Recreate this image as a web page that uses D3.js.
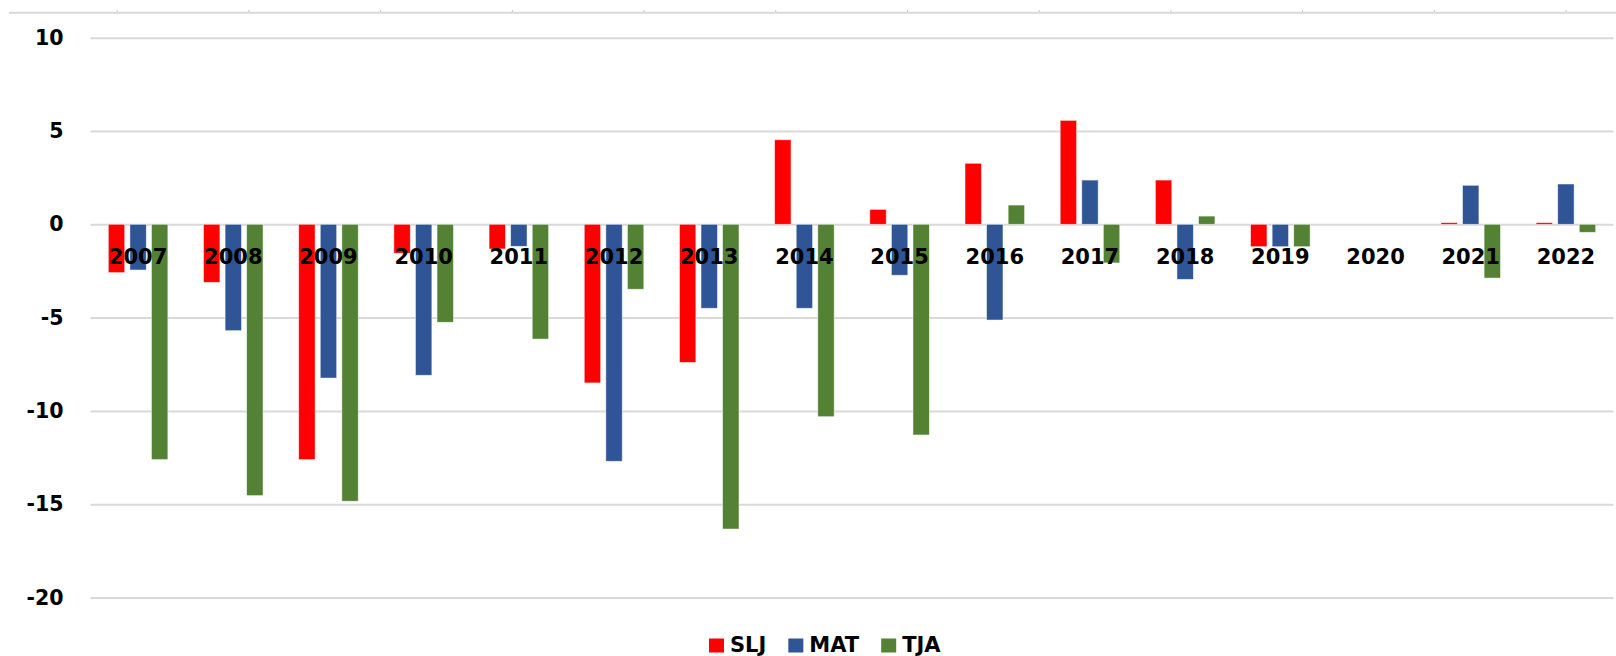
<!DOCTYPE html>
<html>
<head>
<meta charset="utf-8">
<script src="https://cdn.jsdelivr.net/npm/d3@7"></script>
<style>
  body { margin: 0; background: #fff; }
  svg { display: block; font-family: "DejaVu Sans", Verdana, sans-serif; }
</style>
</head>
<body>
<svg id="chart" width="1616" height="656"></svg>
<script>
// categories + series
const years = ["2007","2008","2009","2010","2011","2012","2013","2014","2015","2016","2017","2018","2019","2020","2021","2022"];
const series = ["SLJ", "MAT", "TJA"];
const slj = [-2.59, -3.11, -12.61, -1.55, -1.32, -8.50, -7.40, 4.53, 0.80, 3.27, 5.57, 2.37, -1.20, null, 0.09, 0.09];
const mat = [-2.45, -5.70, -8.24, -8.09, -1.18, -12.70, -4.50, -4.50, -2.73, -5.13, 2.37, -2.95, -1.20, null, 2.09, 2.16];
const tja = [-12.61, -14.54, -14.84, -5.25, -6.15, -3.48, -16.33, -10.31, -11.29, 1.03, -2.07, 0.44, -1.20, null, -2.88, -0.43];
const yTicks = [-20, -15, -10, -5, 0, 5, 10];
const colors = ["#ff0000", "#2f5597", "#548235"];

const width = 1616;
const height = 656;
const margin = { top: 37.7, right: 2.5, bottom: 58.5, left: 90.5 };

const svg = d3.select("#chart");

// ================================
// SCALES
// ================================
const x0 = d3.scaleBand().domain(years).range([margin.left, width - margin.right]).padding(0);
const groupW = x0.bandwidth() * 0.68;
const x1 = d3.scaleBand().domain(series)
  .range([(x0.bandwidth() - groupW) / 2, (x0.bandwidth() + groupW) / 2])
  .paddingInner(0.24).paddingOuter(0.12);
const y = d3.scaleLinear().domain([-20, 10]).range([height - margin.bottom, margin.top]);

// stray top axis (cut off from a chart above)
const topScale = d3.scaleLinear().domain([0, 11]).range([116.7, 1565.5]);
svg.append("line")
  .attr("x1", 9).attr("x2", width).attr("y1", 12.7).attr("y2", 12.7)
  .attr("stroke", "#d9d9d9").attr("stroke-width", 2);
svg.append("g")
  .attr("transform", "translate(0,12)")
  .call(d3.axisTop(topScale).tickValues(d3.range(12)).tickSize(2).tickFormat(""))
  .call(g => g.select(".domain").remove())
  .call(g => g.selectAll("line").attr("stroke", "#c8c8c8"));

// y axis + gridlines (plain hyphen minus like the original)
svg.append("g")
  .attr("transform", `translate(${margin.left},0)`)
  .call(d3.axisLeft(y).tickValues(yTicks).tickFormat(d => String(d))
    .tickSize(-(width - margin.left - margin.right)).tickPadding(27))
  .call(g => g.select(".domain").remove())
  .call(g => g.selectAll(".tick line").attr("stroke", "#d9d9d9").attr("stroke-width", 2))
  .call(g => g.selectAll(".tick text")
    .attr("fill", "#000")
    .attr("font-size", 20.5)
    .attr("font-weight", "bold")
    .attr("font-family", "DejaVu Sans, Verdana, sans-serif"));

// ================================
// BARS
// ================================
const rows = years.map((yr, i) => ({ year: yr, values: [slj[i], mat[i], tja[i]] }));

svg.append("g")
  .selectAll("g")
  .data(rows)
  .join("g")
  .attr("transform", d => `translate(${x0(d.year)},0)`)
  .selectAll("rect")
  .data(d => series.map((s, k) => ({ key: s, k, v: d.values[k] })).filter(e => e.v !== null))
  .join("rect")
  .attr("x", d => x1(d.key))
  .attr("width", x1.bandwidth())
  .attr("y", d => y(Math.max(0, d.v)))
  .attr("height", d => Math.abs(y(d.v) - y(0)))
  .attr("fill", d => colors[d.k])
  .attr("stroke", "#ffffff")
  .attr("stroke-opacity", 0.6)
  .attr("stroke-width", 0.8);

// category labels (sit on the bars, below zero line)
svg.append("g")
  .selectAll("text")
  .data(years)
  .join("text")
  .attr("x", d => x0(d) + x0.bandwidth() / 2)
  .attr("y", 263.5)
  .attr("text-anchor", "middle")
  .attr("font-size", 21)
  .attr("font-weight", "bold")
  .attr("fill", "#000")
  .text(d => d);

// ================================
// LEGEND
// ================================
const legend = svg.append("g").attr("transform", "translate(709,0)");
let lx = 0;
series.forEach((s, k) => {
  legend.append("rect")
    .attr("x", lx).attr("y", 638.5)
    .attr("width", 15).attr("height", 14)
    .attr("fill", colors[k]);
  const t = legend.append("text")
    .attr("x", lx + 21).attr("y", 651.5)
    .attr("font-size", 21)
    .attr("font-weight", "bold")
    .attr("fill", "#000")
    .text(s);
  lx += 21 + t.node().getComputedTextLength() + 22;
});
</script>
</body>
</html>
